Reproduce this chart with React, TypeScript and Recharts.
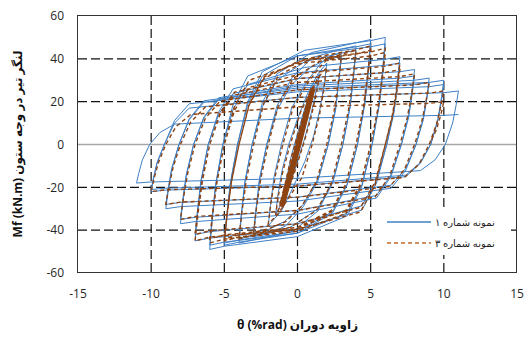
import { LineChart, Line, XAxis, YAxis, CartesianGrid, ReferenceLine } from 'recharts'

type Pt = [number, number]

const xTicks = [-15, -10, -5, 0, 5, 10, 15]
const yTicks = [-60, -40, -20, 0, 20, 40, 60]
const xTitle = 'θ (%rad) زاویه دوران'
const yTitle = 'Mf (kN.m) لنگر تیر در وجه ستون'
const legendNames = ['نمونه شماره ۱', 'نمونه شماره ۳']

// specimen 1 (blue) - rotation %rad, moment kN.m
const s1Elastic: Pt[] = [
  [0, 0], [0.2, 5.5], [0.4, 11], [0.25, 6], [0, -2], [-0.2, -6.5], [-0.4, -11],
  [-0.2, -4], [0.1, 3.5], [0.4, 11], [0.7, 19], [0.5, 13], [0.2, 4], [-0.1, -4], [-0.4, -12], [-0.7, -19],
  [-0.45, -10], [-0.1, 0], [0.3, 10], [0.65, 19], [1, 27], [0.75, 20], [0.4, 10], [0.05, -1], [-0.35, -11], [-0.7, -20], [-1, -27],
  [-0.8, -18], [-0.45, -6], [0, 5], [0.5, 17], [1, 26], [1.5, 33], [1.3, 26], [0.95, 15], [0.5, 3], [0, -8], [-0.5, -18], [-1, -26], [-1.5, -33],
  [-1.35, -24], [-1.05, -12], [-0.6, 0], [0, 12], [0.7, 24], [1.4, 33], [2, 38], [1.85, 29], [1.55, 17], [1.1, 4], [0.5, -8], [-0.3, -20], [-1.1, -31], [-2, -38],
]
const s1Amp3: Pt[] = [
  [-1.85, -28.5], [-1.6, -15], [-1.1, 0], [-0.4, 17], [0.6, 29], [1.6, 38], [2.3, 41.5], [3, 43],
  [2.85, 32], [2.6, 17], [2.1, 0], [1.4, -17], [0.4, -29], [-0.8, -38], [-2, -41.7], [-3, -43],
  [-2.85, -32], [-2.6, -17], [-2.1, 0], [-1.4, 16], [-0.4, 28], [0.9, 36], [2, 39.8], [3, 41],
  [2.85, 31], [2.6, 16], [2.1, 0], [1.4, -16], [0.4, -28], [-0.9, -36], [-2, -39.8], [-3, -41],
]
const s1Amp4: Pt[] = [
  [-2.85, -31], [-2.6, -16], [-2.1, 0], [-1.4, 18], [-0.4, 31], [1, 40.5], [3, 44.6], [4, 46],
  [3.85, 34.5], [3.6, 18], [3.1, 0], [2.4, -18], [1.4, -31], [-0.3, -40.5], [-3, -44.6], [-4, -46],
  [-3.85, -34.5], [-3.6, -18], [-3.1, 0], [-2.4, 17.6], [-1.4, 30], [0.5, 38.7], [3, 42.7], [4, 44],
  [3.85, 33], [3.6, 17.6], [3.1, 0], [2.4, -17.6], [1.4, -30], [-0.5, -38.7], [-3, -42.7], [-4, -44],
]
const s1Amp5: Pt[] = [
  [-3.85, -33], [-3.6, -17.6], [-3.1, 0], [-2.4, 19.6], [-1.4, 33], [1, 43], [4, 47.5], [5, 49],
  [4.85, 36.8], [4.6, 19.6], [4.1, 0], [3.4, -18.8], [2.4, -32], [0, -41.4], [-4, -45.6], [-5, -47],
  [-4.85, -35], [-4.6, -18.8], [-4.1, 0], [-3.4, 18.8], [-2.4, 32], [0, 41.4], [4, 45.6], [5, 47],
  [4.85, 35], [4.6, 18.8], [4.1, 0], [3.4, -18.4], [2.4, -31.3], [0, -40.5], [-4, -44.6], [-5, -46],
]
const s1Amp6: Pt[] = [
  [-4.85, -34.5], [-4.6, -18.4], [-4.1, 0], [-3.4, 20], [-2.4, 34], [0.5, 44], [5, 48.5], [6, 50],
  [5.85, 37.5], [5.6, 20], [5.1, 0], [4.4, -19.6], [3.4, -33.3], [0, -43], [-5, -47.5], [-6, -49],
  [-5.85, -37], [-5.6, -19.6], [-5.1, 0], [-4.4, 18.8], [-3.4, 32], [0, 41.4], [5, 45.6], [6, 47],
  [5.85, 35], [5.6, 18.8], [5.1, 0], [4.4, -18.8], [3.4, -32], [0, -41.4], [-5, -45.6], [-6, -47],
]
const s1Amp7: Pt[] = [
  [-5.85, -35], [-5.6, -18.8], [-5.1, 0], [-4.4, 16.4], [-3.4, 28], [0.5, 36], [6, 39.8], [7, 41],
  [6.85, 31], [6.6, 16.4], [6.1, 0], [5.4, -18], [4.4, -30.6], [0, -39.6], [-6, -43.7], [-7, -45],
  [-6.85, -34], [-6.6, -18], [-6.1, 0], [-5.4, 15], [-4.4, 26], [0, 33.5], [6, 37], [7, 38],
  [6.85, 28.5], [6.6, 15], [6.1, 0], [5.4, -16.8], [4.4, -28.6], [0, -37], [-6, -40.7], [-7, -42],
]
const s1Amp8: Pt[] = [
  [-6.85, -31.5], [-6.6, -16.8], [-6.1, 0], [-5.4, 14], [-4.4, 23.8], [0, 30.8], [7, 34], [8, 35],
  [7.85, 26], [7.6, 14], [7.1, 0], [6.4, -14.8], [5.4, -25], [0, -32.5], [-7, -36], [-8, -37],
  [-7.85, -27.7], [-7.6, -14.8], [-7.1, 0], [-6.4, 12.8], [-5.4, 21.8], [0, 28], [7, 31], [8, 32],
  [7.85, 24], [7.6, 12.8], [7.1, 0], [6.4, -14], [5.4, -23.8], [0, -30.8], [-7, -34], [-8, -35],
]
const s1Amp9: Pt[] = [
  [-7.85, -26], [-7.6, -14], [-7.1, 0], [-6.4, 12.4], [-5.4, 21], [0, 27.3], [8, 30], [9, 31],
  [8.85, 23], [8.6, 12.4], [8.1, 0], [7.4, -12], [6.4, -20.4], [0, -26.4], [-8, -29], [-9, -30],
  [-8.85, -22.5], [-8.6, -12], [-8.1, 0], [-7.4, 11.6], [-6.4, 19.7], [0, 25.5], [8, 28], [9, 29],
  [8.85, 21.7], [8.6, 11.6], [8.1, 0], [7.4, -11.2], [6.4, -19], [0, -24.6], [-8, -27], [-9, -28],
]
const s1Amp10: Pt[] = [
  [-8.85, -21], [-8.6, -11.2], [-8.1, 0], [-7.4, 12], [-6.4, 20.4], [0, 26.4], [9, 29], [10, 30],
  [9.85, 22.5], [9.6, 12], [9.1, 0], [8.4, -8.8], [7.4, -15], [0, -19.4], [-9, -21.3], [-10, -22],
  [-9.85, -16.5], [-9.6, -8.8], [-9.1, 0], [-8.4, 11.2], [-7.4, 19], [0, 24.6], [9, 27], [10, 28],
  [9.85, 21], [9.6, 11.2], [9.1, 0], [8.4, -8.4], [7.4, -14.3], [0, -18.5], [-9, -20.4], [-10, -21],
]
const s1Amp11: Pt[] = [
  [-9.85, -15.8], [-9.6, -8.4], [-9.1, 0], [-8.4, 10], [-7.4, 17], [0, 22], [10, 24.2], [11, 25],
  [10.85, 18.8], [10.6, 10], [10.1, 0], [9.4, -7.2], [8.4, -12.2], [0, -15.8], [-10, -17.5], [-11, -18],
  [-10.85, -13.5], [-10.6, -7.2], [-10.1, 0], [-9.4, 5.6], [-8.4, 9.5], [0, 12.3], [10, 13.6], [11, 14],
]

// specimen 3 (brown dashed)
const s3Core: Pt[] = [
  [0, 0], [0.3, 7], [0.5, 12], [0.3, 6], [0, -1], [-0.4, -11], [-0.6, -16], [-0.4, -12], [0, -2],
  [0.4, 9], [0.7, 17], [0.5, 12], [0.1, 1], [-0.5, -14], [-0.9, -23], [-0.7, -19], [-0.3, -9], [0.2, 4],
  [0.8, 19], [1, 25], [0.8, 20], [0.3, 6], [-0.3, -10], [-0.9, -24], [-1.1, -29], [-0.9, -25], [-0.4, -12],
  [0.3, 6], [0.9, 22], [1.05, 26], [0.7, 16], [0.1, 0], [-0.6, -18], [-1.1, -28],
]
const s3Amp2: Pt[] = [
  [-1.1, -28], [-0.9, -20], [-0.5, -8], [0, 4], [0.5, 16], [1, 25], [1.5, 32],
  [1.3, 24], [0.9, 12], [0.4, 0], [-0.2, -13], [-0.8, -24], [-1.5, -33],
  [-1.3, -23.8], [-1, -12.5], [-0.5, 0], [0.2, 15], [0.9, 25], [1.5, 32], [2, 36],
  [1.8, 26], [1.5, 13.7], [1, 0], [0.3, -15.5], [-0.7, -26], [-1.4, -33], [-2, -37],
]
const s3Amp3: Pt[] = [
  [-1.8, -26.6], [-1.5, -14], [-1, 0], [-0.3, 17.2], [0.7, 28.7], [1.5, 36], [2, 39.4], [3, 41],
  [2.8, 29.5], [2.5, 15.6], [2, 0], [1.3, -17.2], [0.3, -28.7], [-0.8, -36], [-2, -39.4], [-3, -41],
]
const s3Amp4: Pt[] = [
  [-2.8, -29.5], [-2.5, -15.6], [-2, 0], [-1.3, 18.5], [-0.3, 30.8], [1.5, 38.7], [3, 42.2], [4, 44],
  [3.8, 31.7], [3.5, 16.7], [3, 0], [2.3, -18.5], [1.3, -30.8], [-0.5, -38.7], [-3, -42.2], [-4, -44],
]
const s3Amp5: Pt[] = [
  [-3.8, -31.7], [-3.5, -16.7], [-3, 0], [-2.3, 19.3], [-1.3, 32.2], [1, 40.5], [4, 44.2], [5, 46],
  [4.8, 33], [4.5, 17.5], [4, 0], [3.3, -18.9], [2.3, -31.5], [0, -39.6], [-4, -43.2], [-5, -45],
  [-4.8, -32.4], [-4.5, -17.1], [-4, 0], [-3.3, 18.5], [-2.3, 30.8], [0, 38.7], [4, 42.2], [5, 44],
  [4.8, 31.7], [4.5, 16.7], [4, 0], [3.3, -18.5], [2.3, -30.8], [0, -38.7], [-4, -42.2], [-5, -44],
]
const s3Amp6: Pt[] = [
  [-4.8, -31.7], [-4.5, -16.7], [-4, 0], [-3.3, 18.9], [-2.3, 31.5], [0.5, 39.6], [5, 43.2], [6, 45],
  [5.8, 32.4], [5.5, 17.1], [5, 0], [4.3, -19.3], [3.3, -32.2], [0, -40.5], [-5, -44.2], [-6, -46],
  [-5.8, -33], [-5.5, -17.5], [-5, 0], [-4.3, 18], [-3.3, 30], [0, 37.8], [5, 41.3], [6, 43],
  [5.8, 31], [5.5, 16.3], [5, 0], [4.3, -18.5], [3.3, -30.8], [0, -38.7], [-5, -42.2], [-6, -44],
]
const s3Amp7: Pt[] = [
  [-5.8, -31.7], [-5.5, -16.7], [-5, 0], [-4.3, 16], [-3.3, 26.6], [0.5, 33.4], [6, 36.5], [7, 38],
  [6.8, 27.4], [6.5, 14.4], [6, 0], [5.3, -18.9], [4.3, -31.5], [0, -39.6], [-6, -43.2], [-7, -45],
  [-6.8, -32.4], [-6.5, -17.1], [-6, 0], [-5.3, 14.7], [-4.3, 24.5], [0, 30.8], [6, 33.6], [7, 35],
  [6.8, 25.2], [6.5, 13.3], [6, 0], [5.3, -17.6], [4.3, -29.4], [0, -37], [-6, -40.3], [-7, -42],
]
const s3Amp8: Pt[] = [
  [-6.8, -30.2], [-6.5, -16], [-6, 0], [-5.3, 13.9], [-4.3, 23.1], [0, 29], [7, 31.7], [8, 33],
  [7.8, 23.8], [7.5, 12.5], [7, 0], [6.3, -14.7], [5.3, -24.5], [0, -30.8], [-7, -33.6], [-8, -35],
]
const s3Amp9: Pt[] = [
  [-7.8, -25.2], [-7.5, -13.3], [-7, 0], [-6.3, 12.2], [-5.3, 20.3], [0, 25.5], [8, 27.8], [9, 29],
  [8.8, 20.9], [8.5, 11], [8, 0], [7.3, -11.8], [6.3, -19.6], [0, -24.6], [-8, -26.9], [-9, -28],
]
const s3Amp10: Pt[] = [
  [-8.8, -20.2], [-8.5, -10.6], [-8, 0], [-7.3, 10.5], [-6.3, 17.5], [0, 22], [9, 24], [10, 25],
  [9.8, 18], [9.5, 9.5], [9, 0], [8.3, -9.2], [7.3, -15.4], [0, -19.4], [-9, -21.1], [-10, -22],
  [-9.8, -15.8], [-9.5, -8.4], [-9, 0], [-8.3, 8.4], [-7.3, 14], [0, 17.6], [9, 19.2], [10, 20],
  [9.8, 14], [9.5, 7], [9, 0],
]

const toXY = (pts: Pt[]) => pts.map(([x, y]) => ({ x, y }))

const specimen1 = toXY([
  ...s1Elastic, ...s1Amp3, ...s1Amp4, ...s1Amp5, ...s1Amp6,
  ...s1Amp7, ...s1Amp8, ...s1Amp9, ...s1Amp10, ...s1Amp11,
])
const specimen3 = toXY([
  ...s3Amp2, ...s3Amp3, ...s3Amp4, ...s3Amp5, ...s3Amp6,
  ...s3Amp7, ...s3Amp8, ...s3Amp9, ...s3Amp10,
])
const specimen3Core = toXY(s3Core)

const BLUE = '#3f80c6'
const BROWN = '#8e4312'
const font = '"Open Sans", "DejaVu Sans", sans-serif'

export default function App() {
  const tick = { fontSize: 12, fill: '#262626', fontFamily: font }
  return (
    <div style={{ position: 'fixed', left: 0, top: 0, width: 529, height: 338, background: '#fff' }}>
      <LineChart width={529} height={338} margin={{ top: 16, right: 12, bottom: 35, left: 38 }}>
        <CartesianGrid
          stroke="#111"
          strokeDasharray="9 4"
          strokeWidth={1.2}
          horizontalValues={[-40, -20, 20, 40]}
          verticalValues={[-10, -5, 0, 5, 10]}
        />
        <ReferenceLine y={0} stroke="#a6a6a6" strokeWidth={1.5} />
        <XAxis
          type="number"
          dataKey="x"
          domain={[-15, 15]}
          ticks={xTicks}
          allowDataOverflow
          axisLine={false}
          tickLine={false}
          tickSize={0}
          tickMargin={16}
          height={30}
          tick={tick}
        />
        <YAxis
          type="number"
          domain={[-60, 60]}
          ticks={yTicks}
          allowDataOverflow
          axisLine={false}
          tickLine={false}
          tickSize={0}
          tickMargin={14}
          width={40}
          tick={tick}
        />
        <Line data={specimen1} dataKey="y" type="linear" stroke={BLUE} strokeWidth={1} dot={false} isAnimationActive={false} />
        <Line data={specimen3} dataKey="y" type="linear" stroke={BROWN} strokeWidth={1.4} strokeDasharray="4 3" dot={false} isAnimationActive={false} />
        <Line data={specimen3Core} dataKey="y" type="linear" stroke={BROWN} strokeWidth={5} dot={false} isAnimationActive={false} />
      </LineChart>

      {/* plot frame */}
      <div style={{ position: 'absolute', left: 77, top: 15, width: 438, height: 256, border: '1.5px solid #333', pointerEvents: 'none' }} />

      <div style={{ position: 'absolute', left: 78, top: 316, width: 439, textAlign: 'center', fontFamily: font, fontWeight: 700, fontSize: 12, direction: 'ltr', color: '#111' }}>
        {xTitle}
      </div>
      <div style={{ position: 'absolute', left: 18 - 130, top: 144 - 9, width: 260, height: 18, textAlign: 'center', transform: 'rotate(-90deg)', fontFamily: font, fontWeight: 700, fontSize: 12, direction: 'ltr', color: '#111', lineHeight: '18px' }}>
        {yTitle}
      </div>

      {/* legend */}
      <div style={{ position: 'absolute', left: 375, top: 207, width: 136, height: 48, background: '#fff', fontFamily: font, fontSize: 10, color: '#222' }}>
        {legendNames.map((name, i) => (
          <div key={name} style={{ position: 'absolute', left: 0, top: 6 + i * 21, height: 18, width: 136, display: 'flex', alignItems: 'center' }}>
            <svg width={44} height={4} style={{ marginLeft: 12 }}>
              <line x1={0} y1={2} x2={44} y2={2} stroke={i === 0 ? BLUE : '#c0692c'} strokeWidth={1.5} strokeDasharray={i === 0 ? undefined : '4 3'} />
            </svg>
            <span style={{ marginLeft: 4, direction: 'rtl' }}>{name}</span>
          </div>
        ))}
      </div>
    </div>
  )
}
